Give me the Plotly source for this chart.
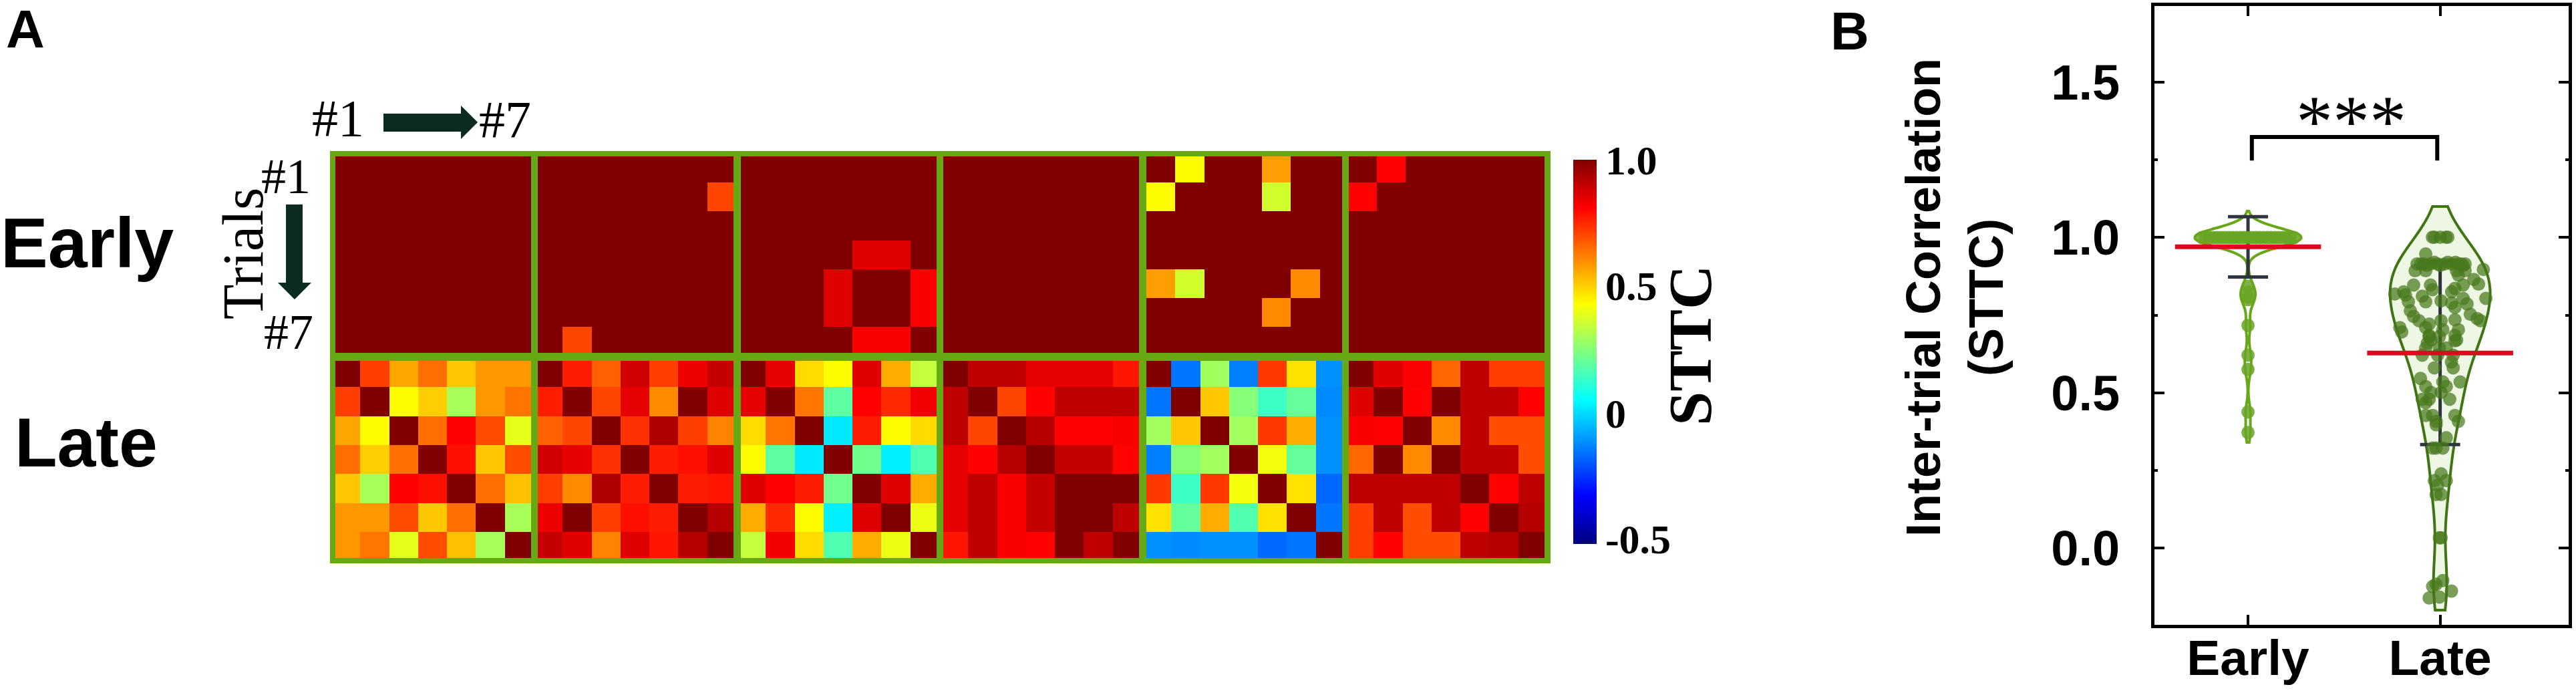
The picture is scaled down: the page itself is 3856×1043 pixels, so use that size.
import plotly.graph_objects as go

W, H = 3856, 1043

# colour limits of the STTC maps
zmin, zmax = -0.5, 1.0
cbar_ticks = [1.0, 0.51, 0.01, -0.48]
cbar_labels = ["1.0", "0.5", "0", "-0.5"]

early_1 = [[1.0] * 7 for _ in range(7)]
early_2 = [
    [1, 1, 1, 1, 1, 1, 1],
    [1, 1, 1, 1, 1, 1, 0.71],
    [1, 1, 1, 1, 1, 1, 1],
    [1, 1, 1, 1, 1, 1, 1],
    [1, 1, 1, 1, 1, 1, 1],
    [1, 1, 1, 1, 1, 1, 1],
    [1, 0.71, 1, 1, 1, 1, 1],
]
early_3 = [
    [1, 1, 1, 1, 1, 1, 1],
    [1, 1, 1, 1, 1, 1, 1],
    [1, 1, 1, 1, 1, 1, 1],
    [1, 1, 1, 1, 0.86, 0.86, 1],
    [1, 1, 1, 0.86, 1, 1, 0.82],
    [1, 1, 1, 0.86, 1, 1, 0.82],
    [1, 1, 1, 1, 0.82, 0.82, 1],
]
early_4 = [[1.0] * 7 for _ in range(7)]
early_5 = [
    [1, 0.44, 1, 1, 0.58, 1, 1],
    [0.44, 1, 1, 1, 0.37, 1, 1],
    [1, 1, 1, 1, 1, 1, 1],
    [1, 1, 1, 1, 1, 1, 1],
    [0.58, 0.37, 1, 1, 1, 0.61, 1],
    [1, 1, 1, 1, 0.61, 1, 1],
    [1, 1, 1, 1, 1, 1, 1],
]
early_6 = [
    [1, 0.81, 1, 1, 1, 1, 1],
    [0.81, 1, 1, 1, 1, 1, 1],
    [1, 1, 1, 1, 1, 1, 1],
    [1, 1, 1, 1, 1, 1, 1],
    [1, 1, 1, 1, 1, 1, 1],
    [1, 1, 1, 1, 1, 1, 1],
    [1, 1, 1, 1, 1, 1, 1],
]
late_1 = [
    [1, 0.72, 0.57, 0.65, 0.52, 0.59, 0.59],
    [0.72, 1, 0.44, 0.51, 0.31, 0.59, 0.64],
    [0.57, 0.44, 1, 0.65, 0.81, 0.70, 0.40],
    [0.65, 0.51, 0.65, 1, 0.79, 0.52, 0.70],
    [0.52, 0.31, 0.81, 0.79, 1, 0.65, 0.53],
    [0.59, 0.59, 0.70, 0.52, 0.65, 1, 0.31],
    [0.59, 0.64, 0.40, 0.70, 0.53, 0.31, 1],
]
late_2 = [
    [1, 0.77, 0.67, 0.88, 0.72, 0.84, 0.90],
    [0.77, 1, 0.71, 0.85, 0.61, 1, 0.86],
    [0.67, 0.71, 1, 0.74, 0.93, 0.72, 0.62],
    [0.88, 0.85, 0.74, 1, 0.77, 0.79, 0.86],
    [0.72, 0.61, 0.93, 0.77, 1, 0.77, 0.78],
    [0.84, 1, 0.72, 0.79, 0.77, 1, 0.92],
    [0.90, 0.86, 0.62, 0.86, 0.78, 0.92, 1],
]
late_3 = [
    [1, 0.85, 0.49, 0.44, 0.86, 0.56, 0.35],
    [0.85, 1, 0.64, 0.20, 0.81, 0.75, 0.83],
    [0.49, 0.64, 1, 0.03, 0.77, 0.44, 0.49],
    [0.44, 0.20, 0.03, 1, 0.23, 0.04, 0.18],
    [0.86, 0.81, 0.77, 0.23, 1, 0.86, 0.56],
    [0.56, 0.75, 0.44, 0.04, 0.86, 1, 0.41],
    [0.35, 0.83, 0.49, 0.18, 0.56, 0.41, 1],
]
late_4 = [
    [1, 0.91, 0.91, 0.85, 0.85, 0.85, 0.78],
    [0.91, 1, 0.71, 0.81, 0.91, 0.91, 0.91],
    [0.91, 0.71, 1, 0.92, 0.81, 0.81, 0.82],
    [0.85, 0.81, 0.92, 1, 0.90, 0.90, 0.81],
    [0.85, 0.91, 0.82, 0.90, 1, 1, 1],
    [0.85, 0.91, 0.82, 0.90, 1, 1, 0.91],
    [0.78, 0.91, 0.82, 0.81, 1, 0.91, 1],
]
late_5 = [
    [1, -0.14, 0.30, -0.125, 0.73, 0.48, -0.10],
    [-0.14, 1, 0.52, 0.26, 0.15, 0.21, -0.11],
    [0.30, 0.52, 1, 0.30, 0.73, 0.56, -0.10],
    [-0.125, 0.26, 0.30, 1, 0.42, 0.21, -0.10],
    [0.73, 0.15, 0.73, 0.42, 1, 0.48, -0.16],
    [0.48, 0.21, 0.56, 0.18, 0.48, 1, -0.14],
    [-0.10, -0.11, -0.10, -0.10, -0.16, -0.14, 1],
]
late_6 = [
    [1, 0.86, 0.82, 0.66, 0.91, 0.72, 0.72],
    [0.86, 1, 0.81, 1, 0.91, 0.91, 0.81],
    [0.82, 0.81, 1, 0.61, 0.91, 0.70, 0.70],
    [0.66, 1, 0.61, 1, 0.91, 0.91, 0.70],
    [0.91, 0.91, 0.91, 0.91, 1, 0.81, 0.91],
    [0.72, 0.91, 0.70, 0.91, 0.81, 1, 0.92],
    [0.72, 0.81, 0.70, 0.70, 0.91, 0.92, 1],
]

early_maps = [early_1, early_2, early_3, early_4, early_5, early_6]
late_maps = [late_1, late_2, late_3, late_4, late_5, late_6]

# panel B
groups = ["Early", "Late"]
y_ticks = [0.0, 0.5, 1.0, 1.5]
y_minor = [0.25, 0.75, 1.25]
means = [0.97, 0.628]
sds = [0.097, 0.295]

early_vals = [
    1.0, 1.0, 1.0, 1.0, 1.0, 1.0, 1.0, 1.0, 1.0, 1.0, 1.0, 1.0, 1.0,
    1.0, 1.0, 1.0, 1.0, 1.0, 1.0, 1.0, 1.0, 1.0, 1.0, 1.0, 1.0,
    0.843, 0.825, 0.807, 0.80, 0.717, 0.621, 0.575, 0.438, 0.372,
]
early_offs = [
    -0.24, -0.22, -0.20, -0.18, -0.16, -0.14, -0.12, -0.10, -0.08, -0.06, -0.04, -0.02, 0.0,
    0.02, 0.04, 0.06, 0.08, 0.10, 0.12, 0.14, 0.16, 0.18, 0.20, 0.22, 0.24,
    0.0, 0.0, 0.0, 0.0, 0.0, 0.0, 0.0, 0.0, 0.0,
]
late_vals = [
    1.001, 1.001, 1.001, 1.001, 1.001, 0.947,
    0.915, 0.915, 0.915, 0.915, 0.915, 0.915, 0.915, 0.915, 0.915, 0.915,
    0.92, 0.92, 0.92, 0.91, 0.91, 0.91,
    0.893, 0.893, 0.893, 0.893, 0.897, 0.865, 0.879,
    0.818, 0.825, 0.847, 0.847, 0.836, 0.847, 0.85,
    0.815, 0.811, 0.832, 0.825, 0.804,
    0.793, 0.793, 0.796, 0.789, 0.804, 0.786,
    0.764, 0.746, 0.775, 0.753,
    0.732, 0.721, 0.732, 0.735, 0.739, 0.732,
    0.71, 0.71, 0.703, 0.703, 0.696, 0.685, 0.685, 0.66, 0.667,
    0.681, 0.681, 0.67, 0.67, 0.644, 0.644, 0.644, 0.621, 0.621, 0.621,
    0.599, 0.58, 0.58, 0.546, 0.535, 0.535, 0.52, 0.52, 0.501, 0.501,
    0.479, 0.479, 0.479, 0.468, 0.427, 0.427, 0.427, 0.408, 0.408, 0.397,
    0.355, 0.322, 0.322, 0.322, 0.239, 0.217, 0.217, 0.202, 0.172, 0.172,
    0.033, 0.033, -0.105, -0.117, -0.124, -0.139, -0.158, -0.161,
]
late_offs = [
    -0.03, 0.0, 0.03, -0.04, 0.04, -0.075,
    -0.12, -0.085, -0.05, -0.013, 0.023, 0.06, 0.095, 0.13, -0.10, 0.11,
    -0.03, 0.04, 0.08, -0.07, 0.0, 0.12,
    -0.13, -0.075, 0.085, 0.13, 0.225, 0.175, 0.095,
    -0.236, -0.19, -0.138, -0.05, 0.077, 0.12, 0.20,
    -0.18, -0.093, -0.04, 0.06, 0.238,
    -0.165, -0.075, 0.005, 0.06, 0.12, 0.14,
    -0.155, -0.138, 0.077, 0.157,
    -0.11, -0.057, 0.005, 0.077, 0.193, 0.21,
    -0.21, -0.075, 0.014, 0.095, -0.20, -0.057, 0.077, -0.066, 0.077,
    -0.057, -0.004, 0.086, -0.048, -0.075, -0.004, 0.032, -0.093, -0.013, 0.068,
    0.059, -0.03, 0.068, -0.102, 0.104, 0.014, -0.075, 0.032, -0.048, 0.005,
    -0.093, 0.05, -0.057, -0.075, -0.075, -0.039, 0.077, 0.095, -0.021, -0.021,
    0.032, -0.021, 0.014, -0.039, 0.005, -0.03, 0.032, -0.013, 0.005, -0.021,
    -0.004, 0.005, 0.014, -0.021, -0.039, 0.059, -0.004, -0.057,
]
bracket_x = [0.02, 0.02, 0.985, 0.985]
bracket_y = [1.248, 1.324, 1.324, 1.248]

jet = [
    [0.0, "#000080"], [0.125, "#0000ff"], [0.375, "#00ffff"],
    [0.625, "#ffff00"], [0.875, "#ff0000"], [1.0, "#800000"],
]
GREEN = "#67a815"
SERIF = "Liberation Serif"
SANS = "Liberation Sans"


def px(x):
    return x / W


def py(y):
    return 1 - y / H


def label(x, y, text, family, size, bold=False, angle=0, color="black"):
    return dict(
        x=px(x), y=py(y), xref="paper", yref="paper", text=f"<b>{text}</b>" if bold else text,
        showarrow=False, textangle=angle, xanchor="center", yanchor="middle",
        font=dict(family=family, size=size, color=color),
    )


def path(points):
    return "M " + " L ".join(f"{px(a):.5f},{py(b):.5f}" for a, b in points) + " Z"


fig = go.Figure()

# heat map panels, sitting on one green rectangle so the gaps read as the frame
panel_x = [502, 805, 1109, 1412, 1716, 2019]
panel_w = 293
early_start = [-0.36, -0.36, -0.36, -0.36, -0.5, -0.46]
layout_axes = {}
n = 0
for row, maps in enumerate([early_maps, late_maps]):
    top, bottom = (234, 528) if row == 0 else (540, 835)
    for i, z in enumerate(maps):
        n += 1
        start = early_start[i] if row == 0 else -0.36
        fig.add_trace(go.Heatmap(
            z=z, coloraxis="coloraxis", xaxis=f"x{n}", yaxis=f"y{n}",
        ))
        layout_axes[f"xaxis{n}"] = dict(
            domain=[px(panel_x[i]), px(panel_x[i] + panel_w)], anchor=f"y{n}",
            range=[start, start + 6.77], visible=False,
        )
        layout_axes[f"yaxis{n}"] = dict(
            domain=[py(bottom), py(top)], anchor=f"x{n}",
            range=[6.4, -0.4], visible=False,
        )

# panel B
fig.add_trace(go.Violin(
    x0=0, y=early_vals, width=0.55, bandwidth=0.03, spanmode="manual", span=[0.34, 1.085],
    line=dict(color="#66a818", width=4), fillcolor="rgba(255,255,255,0)", points=False,
    xaxis="x13", yaxis="y13", showlegend=False,
))
fig.add_trace(go.Violin(
    x0=1, y=late_vals, width=0.52, bandwidth=0.1, spanmode="manual", span=[-0.2, 1.1],
    line=dict(color="#3f7512", width=4), fillcolor="#eef6e4", points=False,
    xaxis="x13", yaxis="y13", showlegend=False,
))
fig.add_trace(go.Scatter(
    x=[0, 1], y=means, mode="none", xaxis="x13", yaxis="y13", showlegend=False,
    error_y=dict(type="data", array=sds, color="#2e3440", thickness=5, width=30),
))
fig.add_trace(go.Scatter(
    x=early_offs, y=early_vals, mode="markers", xaxis="x13", yaxis="y13", showlegend=False,
    marker=dict(size=20, color="rgba(104,165,35,0.85)", line=dict(width=0)),
))
fig.add_trace(go.Scatter(
    x=[1 + o for o in late_offs], y=late_vals, mode="markers", xaxis="x13", yaxis="y13",
    showlegend=False, marker=dict(size=20, color="rgba(72,120,28,0.72)", line=dict(width=0)),
))
fig.add_trace(go.Scatter(
    x=[0, 1], y=means, mode="none", xaxis="x13", yaxis="y13", showlegend=False,
    error_x=dict(type="constant", value=0.38, color="#dc0a1e", thickness=7, width=0),
))
fig.add_trace(go.Scatter(
    x=bracket_x, y=bracket_y, mode="lines", xaxis="x13", yaxis="y13", showlegend=False,
    line=dict(color="black", width=6),
))

annotations = [
    label(38, 44, "A", SANS, 80, bold=True),
    label(2769, 46, "B", SANS, 80, bold=True),
    label(130, 363, "Early", SANS, 106, bold=True),
    label(129, 662, "Late", SANS, 104, bold=True),
    label(506, 176, "#1", SERIF, 78),
    label(756, 178, "#7", SERIF, 78),
    label(428, 264, "#1", SERIF, 74),
    label(432, 497, "#7", SERIF, 74),
    label(364, 379, "Trials", SERIF, 86, angle=-90),
    label(2530, 517, "STTC", SERIF, 92, bold=True, angle=-90),
    label(2926, 445, "Inter-trial Correlation<br>(STTC)", SANS, 72, bold=True, angle=-90),
    label(3519, 182, "***", SERIF, 110),
]

shapes = [
    dict(type="rect", xref="paper", yref="paper", x0=px(494), x1=px(2321), y0=py(843), y1=py(226),
         fillcolor=GREEN, line=dict(width=0), layer="below"),
    dict(type="path", xref="paper", yref="paper", fillcolor="#0b2a20", line=dict(width=0),
         path=path([(574, 170), (690, 170), (690, 158), (715, 183), (690, 208), (690, 197), (574, 197)])),
    dict(type="path", xref="paper", yref="paper", fillcolor="#0b2a20", line=dict(width=0),
         path=path([(428, 306), (453, 306), (453, 423), (466, 423), (441, 448), (416, 423), (428, 423)])),
]

fig.update_layout(
    width=W, height=H, autosize=False,
    margin=dict(l=0, r=0, t=0, b=0, autoexpand=False), paper_bgcolor="white", plot_bgcolor="rgba(0,0,0,0)",
    showlegend=False, violinmode="overlay",
    coloraxis=dict(
        colorscale=jet, cmin=zmin, cmax=zmax,
        colorbar=dict(
            x=px(2355), xanchor="left", xpad=0, ypad=0, y=py(814), yanchor="bottom",
            len=(814 - 239.5) / H, lenmode="fraction", thickness=35, thicknessmode="pixels",
            outlinewidth=0, ticks="", ticklen=0, tickmode="array", tickvals=cbar_ticks, ticktext=cbar_labels,
            tickfont=dict(family=SERIF, size=62, color="black", weight="bold"),
        ),
    ),
    xaxis13=dict(
        domain=[px(3225), px(3845)], anchor="y13", range=[-0.487, 1.669],
        tickmode="array", tickvals=[0, 1], ticktext=groups, ticks="inside", ticklen=15, tickwidth=4,
        tickcolor="black", showline=True, linecolor="black", linewidth=5, mirror="ticks",
        showgrid=False, zeroline=False, ticklabelstandoff=-20,
        tickfont=dict(family=SANS, size=75, color="black", weight="bold"),
    ),
    yaxis13=dict(
        domain=[py(935), py(9)], anchor="x13", range=[-0.2475, 1.7456],
        tickmode="array", tickvals=y_ticks, ticktext=[f"{v:.1f}" for v in y_ticks],
        ticks="inside", ticklen=15, tickwidth=4, tickcolor="black",
        minor=dict(tickmode="array", tickvals=y_minor, ticks="inside", ticklen=5, tickwidth=4, tickcolor="black"),
        showline=True, linecolor="black", linewidth=5, mirror="ticks",
        showgrid=False, zeroline=False, ticklabelstandoff=32,
        tickfont=dict(family=SANS, size=74, color="black", weight="bold"),
    ),
    annotations=annotations,
    shapes=shapes,
    **layout_axes,
)

fig.write_html(
    "out.html",
    config={"displayModeBar": False},
    post_script="document.body.style.margin='0';document.body.style.overflow='hidden';",
)
